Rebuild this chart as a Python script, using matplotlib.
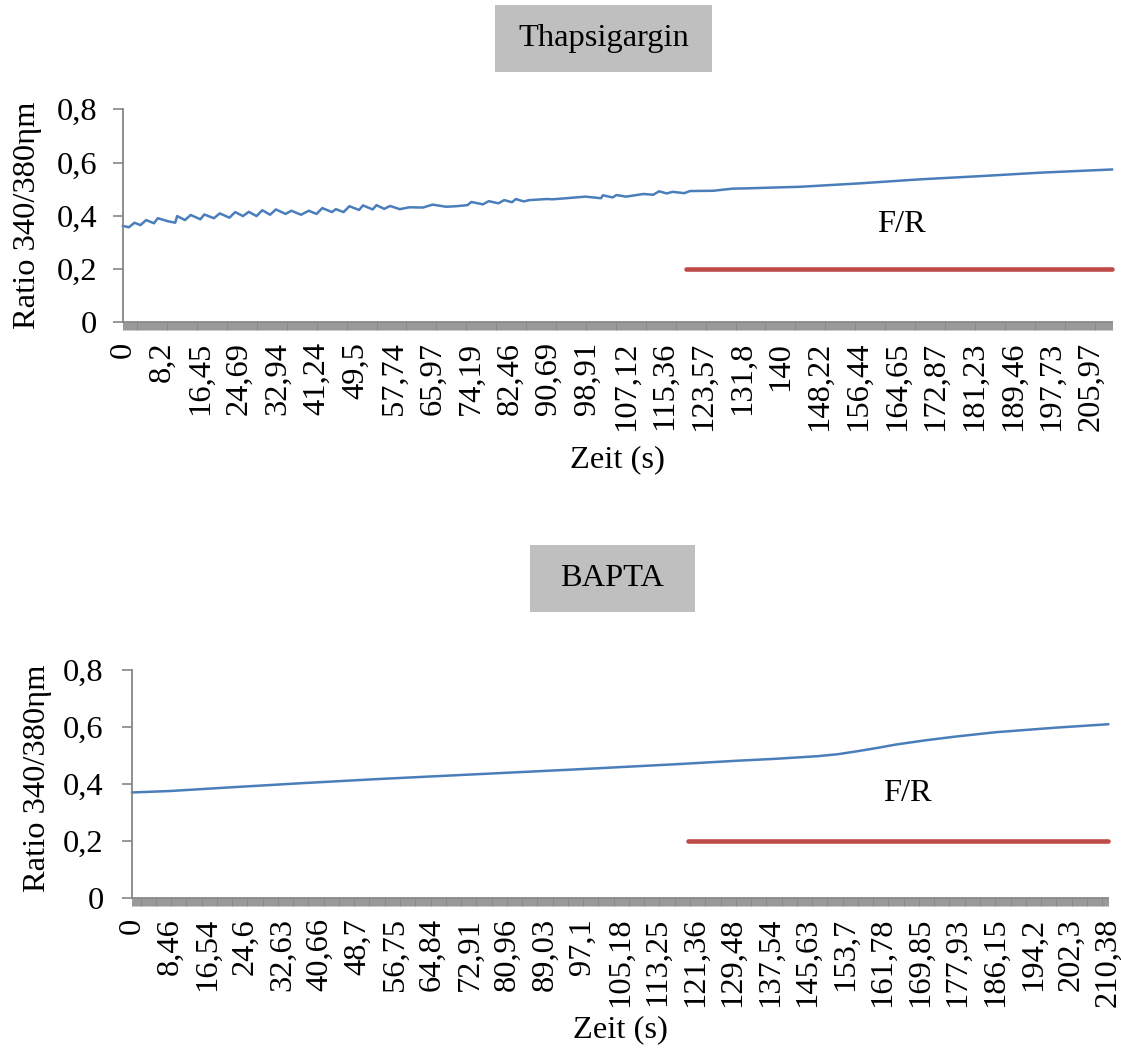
import matplotlib
matplotlib.use('Agg')
from matplotlib import pyplot as plt
from matplotlib.patches import Rectangle
from matplotlib.ticker import FixedLocator

plt.rcParams['font.family'] = ['Liberation Serif', 'DejaVu Serif']

# every labelled time point is followed by this many recorded frames
SAMPLES_PER_LABEL = 40

# --- Thapsigargin recording ---
thaps_labels = ['0', '8,2', '16,45', '24,69', '32,94', '41,24', '49,5', '57,74',
                '65,97', '74,19', '82,46', '90,69', '98,91', '107,12', '115,36',
                '123,57', '131,8', '140', '148,22', '156,44', '164,65', '172,87',
                '181,23', '189,46', '197,73', '205,97']
thaps_last_sample = 1022
thaps_sample = [0, 6, 12, 18, 24, 32, 36, 46, 54, 56, 64, 70, 80, 84, 94, 100,
                110, 116, 124, 130, 138, 144, 152, 158, 168, 174, 184, 192, 200,
                206, 216, 220, 228, 234, 244, 248, 258, 262, 270, 276, 286, 296,
                310, 320, 334, 344, 356, 360, 372, 378, 388, 394, 402, 406, 414,
                420, 438, 444, 458, 478, 494, 496, 506, 510, 520, 538, 548, 554,
                562, 568, 580, 586, 610, 630, 644, 680, 700, 762, 824, 886, 948,
                1022]
thaps_ratio = [0.362, 0.357, 0.374, 0.365, 0.384, 0.372, 0.391, 0.380, 0.374,
               0.399, 0.384, 0.403, 0.387, 0.405, 0.391, 0.409, 0.393, 0.414,
               0.399, 0.415, 0.399, 0.421, 0.404, 0.424, 0.407, 0.419, 0.404,
               0.419, 0.407, 0.429, 0.414, 0.425, 0.414, 0.436, 0.422, 0.439,
               0.424, 0.440, 0.426, 0.437, 0.425, 0.432, 0.431, 0.442, 0.434,
               0.436, 0.440, 0.452, 0.443, 0.455, 0.447, 0.459, 0.451, 0.463,
               0.454, 0.459, 0.463, 0.462, 0.466, 0.472, 0.466, 0.477, 0.469,
               0.478, 0.472, 0.482, 0.479, 0.492, 0.484, 0.490, 0.485, 0.493,
               0.494, 0.502, 0.503, 0.507, 0.509, 0.522, 0.537, 0.549, 0.562,
               0.574]
thaps_fr_sample = [582, 1022]
thaps_fr_ratio = [0.2, 0.2]

# --- BAPTA recording ---
bapta_labels = ['0', '8,46', '16,54', '24,6', '32,63', '40,66', '48,7', '56,75',
                '64,84', '72,91', '80,96', '89,03', '97,1', '105,18', '113,25',
                '121,36', '129,48', '137,54', '145,63', '153,7', '161,78',
                '169,85', '177,93', '186,15', '194,2', '202,3', '210,38']
bapta_last_sample = 1040
bapta_sample = [0, 40, 100, 178, 262, 368, 474, 580, 644, 686, 730, 752, 772,
                794, 814, 846, 878, 920, 984, 1040]
bapta_ratio = [0.371, 0.376, 0.388, 0.403, 0.418, 0.435, 0.452, 0.470, 0.482,
               0.489, 0.498, 0.505, 0.515, 0.527, 0.539, 0.554, 0.567, 0.582,
               0.598, 0.610]
bapta_fr_sample = [592, 1040]
bapta_fr_ratio = [0.2, 0.2]

y_ticks = [0, 0.2, 0.4, 0.6, 0.8]
y_tick_labels = ['0', '0,2', '0,4', '0,6', '0,8']

LINE_BLUE = '#4A7EBB'
LINE_RED = '#BE4B48'
AXIS_GREY = '#868686'
BOX_GREY = '#BFBFBF'
FONT_SIZE = 23.4


def draw_panel(ax, labels, last_sample, sample, ratio, fr_sample, fr_ratio,
               fr_text_x, xlabel_y, ylabel_y, ytick_pad):
    ax.plot(sample, ratio, color=LINE_BLUE, lw=1.8, clip_on=False)
    ax.plot(fr_sample, fr_ratio, color=LINE_RED, lw=3.3,
            solid_capstyle='round', clip_on=False)
    ax.text(fr_text_x, 0.34, 'F/R', ha='center', va='baseline', fontsize=FONT_SIZE)

    ax.set_xlim(0, last_sample)
    ax.set_ylim(0, 0.8)
    ax.set_yticks(y_ticks)
    ax.set_yticklabels(y_tick_labels)

    # one tick per frame, a label on every SAMPLES_PER_LABEL-th frame
    ax.set_xticks([i * SAMPLES_PER_LABEL for i in range(len(labels))])
    ax.set_xticklabels(labels, rotation=90)
    ax.xaxis.set_minor_locator(FixedLocator(range(last_sample + 1)))
    ax.tick_params(axis='x', which='both', direction='out', length=6, width=0.6,
                   color=AXIS_GREY, pad=8, labelsize=FONT_SIZE)
    ax.tick_params(axis='y', direction='out', length=7.5, width=1.2,
                   color=AXIS_GREY, pad=ytick_pad, labelsize=FONT_SIZE)

    for side in ('top', 'right'):
        ax.spines[side].set_visible(False)
    for side in ('left', 'bottom'):
        ax.spines[side].set_color(AXIS_GREY)
        ax.spines[side].set_linewidth(1.3)

    ax.set_xlabel('Zeit (s)', fontsize=FONT_SIZE, va='center')
    ax.xaxis.set_label_coords(0.5, xlabel_y)
    ax.set_ylabel('Ratio 340/380ηm', fontsize=FONT_SIZE, va='center', ha='center')
    ax.yaxis.set_label_coords(-0.097, ylabel_y)


def draw_title(fig, text, box, baseline):
    x0, y0, w, h = box
    fig.add_artist(Rectangle((x0, y0), w, h, transform=fig.transFigure,
                             facecolor=BOX_GREY, edgecolor='none'))
    fig.text(x0 + w / 2, baseline, text, ha='center', va='baseline',
             fontsize=FONT_SIZE)


def main():
    fig = plt.figure(figsize=(11.21, 10.61), dpi=100)

    ax_top = fig.add_axes([0.1097, 0.6962, 0.8822, 0.2008])
    draw_panel(ax_top, thaps_labels, thaps_last_sample, thaps_sample, thaps_ratio,
               thaps_fr_sample, thaps_fr_ratio, fr_text_x=804,
               xlabel_y=-0.646, ylabel_y=0.5, ytick_pad=11)
    draw_title(fig, 'Thapsigargin', (0.4416, 0.9321, 0.1936, 0.0631), 0.9569)

    ax_bottom = fig.add_axes([0.1178, 0.1533, 0.8707, 0.2152])
    draw_panel(ax_bottom, bapta_labels, bapta_last_sample, bapta_sample, bapta_ratio,
               bapta_fr_sample, bapta_fr_ratio, fr_text_x=826,
               xlabel_y=-0.577, ylabel_y=0.525, ytick_pad=13)
    draw_title(fig, 'BAPTA', (0.4728, 0.4232, 0.1472, 0.0631), 0.4480)

    fig.savefig('out.png', dpi=100)


if __name__ == '__main__':
    main()
